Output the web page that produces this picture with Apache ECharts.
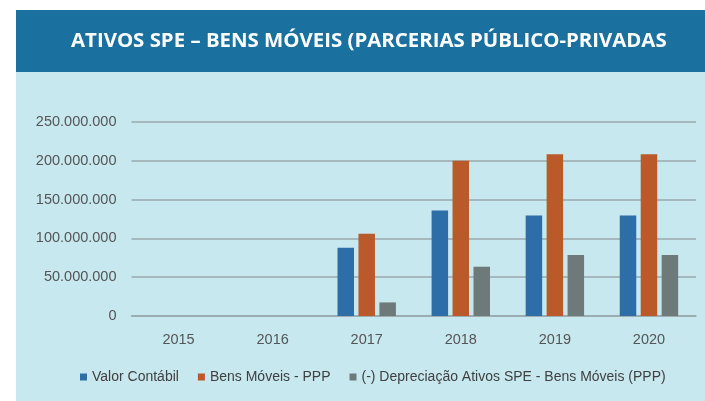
<!DOCTYPE html>
<html>
<head>
<meta charset="utf-8">
<script src="https://cdn.jsdelivr.net/npm/echarts@6/dist/echarts.min.js"></script>
<style>
  html, body { margin: 0; padding: 0; background: #ffffff; }
  #chart { width: 705px; height: 401px; }
</style>
</head>
<body>
<div id="chart"></div>
<script>
  // dados
  var anos = ['2015', '2016', '2017', '2018', '2019', '2020'];
  var valorContabil = [null, null, 88000000, 136000000, 129500000, 129500000];
  var bensMoveis = [null, null, 106000000, 200000000, 208500000, 208500000];
  var depreciacao = [null, null, 17500000, 63500000, 78500000, 78500000];
  var nomesSeries = ['Valor Contábil', 'Bens Móveis - PPP', '(-) Depreciação Ativos SPE - Bens Móveis (PPP)'];
  var cores = ['#2D6DA8', '#BA5A2A', '#6E7A7A'];

  var chart = echarts.init(document.getElementById('chart'));

  function fmt(v) {
    return String(v).replace(/\B(?=(\d{3})+(?!\d))/g, '.');
  }

  chart.setOption({
    animation: false,
    color: cores,
    graphic: [
      { type: 'rect', shape: { x: 16, y: 10, width: 689, height: 62 }, style: { fill: '#1A71A0' }, z: -10 },
      { type: 'rect', shape: { x: 16, y: 72, width: 689, height: 329 }, style: { fill: '#C7E8EF' }, z: -10 }
    ],
    title: {
      text: 'ATIVOS SPE – BENS MÓVEIS (PARCERIAS PÚBLICO-PRIVADAS',
      left: 66,
      top: 26,
      textStyle: {
        color: '#ffffff',
        fontFamily: 'Open Sans',
        fontWeight: 'bold',
        fontSize: 20.4
      }
    },
    legend: {
      data: nomesSeries,
      left: 75,
      top: 365,
      icon: 'rect',
      itemWidth: 7,
      itemHeight: 7,
      itemGap: 19,
      textStyle: { color: '#404040', fontFamily: 'Liberation Sans', fontSize: 14 }
    },
    grid: { left: 131.5, right: 9, top: 122, bottom: 85 },
    xAxis: {
      type: 'category',
      data: anos,
      axisLine: { lineStyle: { color: '#9AA8AC', width: 1.5 } },
      axisTick: { show: false },
      axisLabel: { color: '#555555', fontFamily: 'Liberation Sans', fontSize: 14.5, margin: 16 }
    },
    yAxis: {
      type: 'value',
      min: 0,
      max: 250000000,
      interval: 50000000,
      axisLine: { show: false },
      axisTick: { show: false },
      splitLine: { lineStyle: { color: '#9AA8AC', width: 1.5 } },
      axisLabel: { color: '#555555', fontFamily: 'Liberation Sans', fontSize: 14.5, margin: 15, formatter: fmt }
    },
    series: [
      { name: nomesSeries[0], type: 'bar', data: valorContabil, barWidth: 16.5, barGap: '27%' },
      { name: nomesSeries[1], type: 'bar', data: bensMoveis, barWidth: 16.5, barGap: '27%' },
      { name: nomesSeries[2], type: 'bar', data: depreciacao, barWidth: 16.5, barGap: '27%' }
    ]
  });
</script>
</body>
</html>
